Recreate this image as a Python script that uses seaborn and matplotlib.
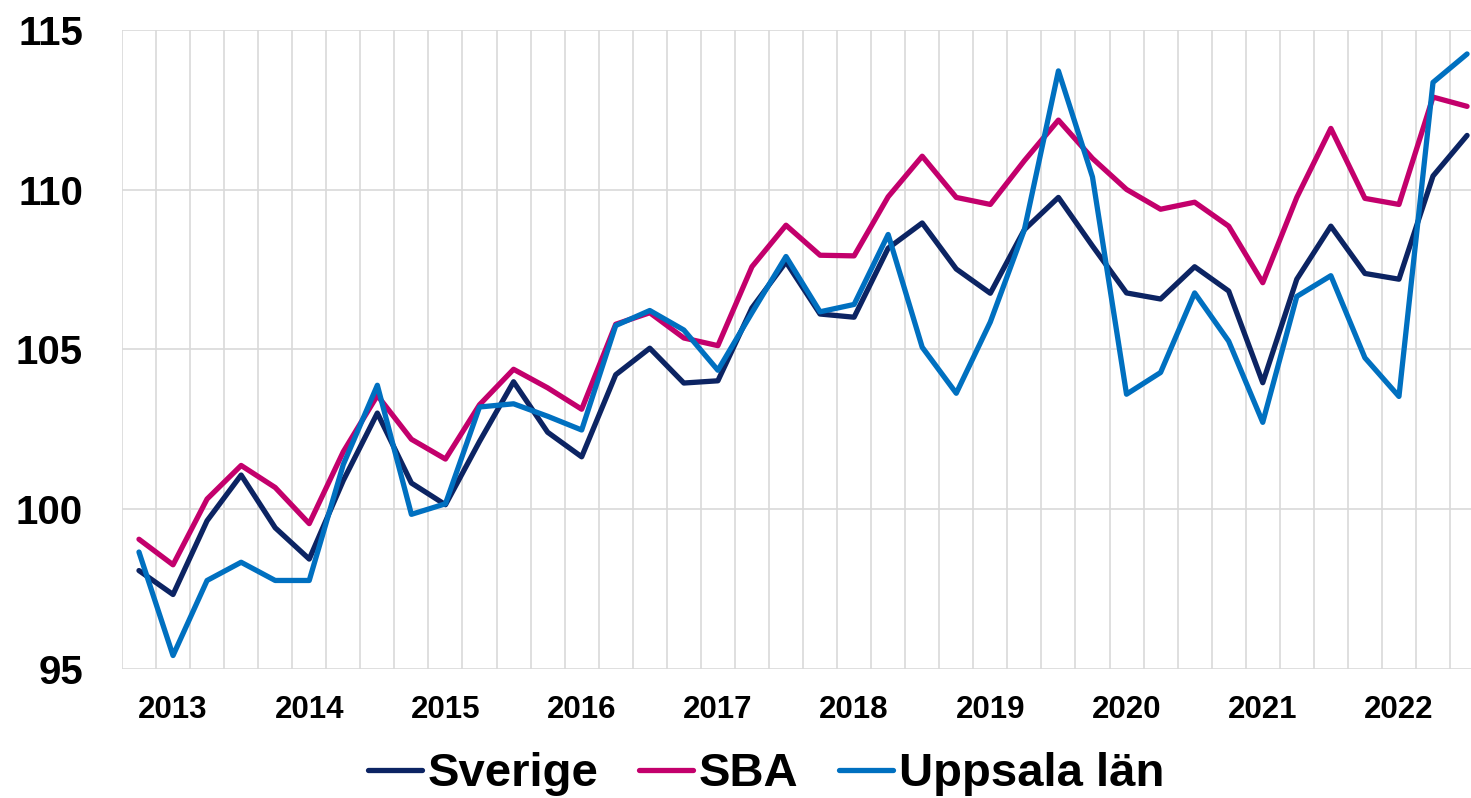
import numpy as np
import pandas as pd
import matplotlib
matplotlib.use("Agg")
import matplotlib.pyplot as plt
import seaborn as sns

# Kvartalsvärden, index (40 kvartal)
sverige = [98.08, 97.33, 99.64, 101.07, 99.42, 98.44, 100.9, 103.01, 100.82, 100.14,
           102.12, 103.99, 102.41, 101.64, 104.21, 105.04, 103.95, 104.02, 106.3, 107.74,
           106.11, 106.01, 108.17, 108.96, 107.52, 106.76, 108.75, 109.76, 108.24, 106.77,
           106.58, 107.59, 106.83, 103.96, 107.2, 108.86, 107.38, 107.2, 110.43, 111.7]
sba = [99.06, 98.26, 100.32, 101.37, 100.68, 99.55, 101.8, 103.56, 102.19, 101.57,
       103.27, 104.38, 103.8, 103.13, 105.79, 106.15, 105.36, 105.12, 107.59, 108.89,
       107.95, 107.93, 109.78, 111.05, 109.76, 109.54, 110.91, 112.18, 110.98, 110.01,
       109.39, 109.61, 108.86, 107.09, 109.76, 111.92, 109.73, 109.54, 112.9, 112.61]
uppsala = [98.66, 95.42, 97.77, 98.34, 97.77, 97.77, 101.4, 103.88, 99.84, 100.17,
           103.2, 103.3, 102.91, 102.48, 105.75, 106.22, 105.61, 104.35, 106.15, 107.91,
           106.18, 106.41, 108.6, 105.07, 103.63, 105.86, 108.75, 113.72, 110.4, 103.6,
           104.28, 106.77, 105.26, 102.72, 106.66, 107.31, 104.74, 103.53, 113.36, 114.25]
series_names = ["Sverige", "SBA", "Uppsala län"]
year_labels = ["2013", "2014", "2015", "2016", "2017", "2018", "2019", "2020", "2021", "2022"]
colors = ["#0c2463", "#c3006c", "#0070c0"]

n = len(sverige)
df = pd.DataFrame({
    "kvartal": list(range(n)) * 3,
    "varde": sverige + sba + uppsala,
    "serie": [series_names[0]] * n + [series_names[1]] * n + [series_names[2]] * n,
})

sns.set_style("white")
plt.rcParams["font.family"] = ["Liberation Sans", "DejaVu Sans"]
plt.rcParams["font.weight"] = "bold"
plt.rcParams["text.color"] = "black"
plt.rcParams["xtick.color"] = "black"
plt.rcParams["ytick.color"] = "black"

fig = plt.figure(figsize=(14.71, 7.98), dpi=100)
ax = fig.add_axes([0.0829, 0.1617, 0.926, 0.8007])

sns.lineplot(data=df, x="kvartal", y="varde", hue="serie", palette=colors,
             linewidth=3.8, ax=ax, legend=False,
             solid_joinstyle="round", solid_capstyle="round")

ax.set_xlim(-0.5, n - 0.5)
ax.set_ylim(95, 115)
ax.set_yticks([95, 100, 105, 110, 115])
ax.set_xticks([1 + 4 * i for i in range(len(year_labels))])
ax.set_xticklabels(year_labels)
ax.set_xticks(np.arange(-0.5, n, 1), minor=True)
ax.grid(False)
ax.grid(True, which="minor", axis="x", color="#d9d9d9", linewidth=1.2)
ax.grid(True, which="major", axis="y", color="#d9d9d9", linewidth=1.2)
ax.set_axisbelow(True)
for s in ax.spines.values():
    s.set_visible(False)
ax.tick_params(axis="x", which="both", length=0, pad=19, labelsize=22.5, labelcolor="black")
ax.tick_params(axis="y", length=0, pad=28, labelsize=29, labelcolor="black")
for lbl in ax.get_xticklabels() + ax.get_yticklabels():
    lbl.set_fontweight("bold")
ax.set_xlabel("")
ax.set_ylabel("")

handles = [plt.Line2D([], [], color=c, linewidth=3.8, solid_capstyle="round") for c in colors]
fig.legend(handles, series_names, loc="center", bbox_to_anchor=(0.5207, 0.030),
           ncol=3, frameon=False, handlelength=1.15, handletextpad=0.12,
           columnspacing=0.85, labelcolor="black",
           prop={"weight": "bold", "size": 34})

fig.savefig("out.png", dpi=100)
